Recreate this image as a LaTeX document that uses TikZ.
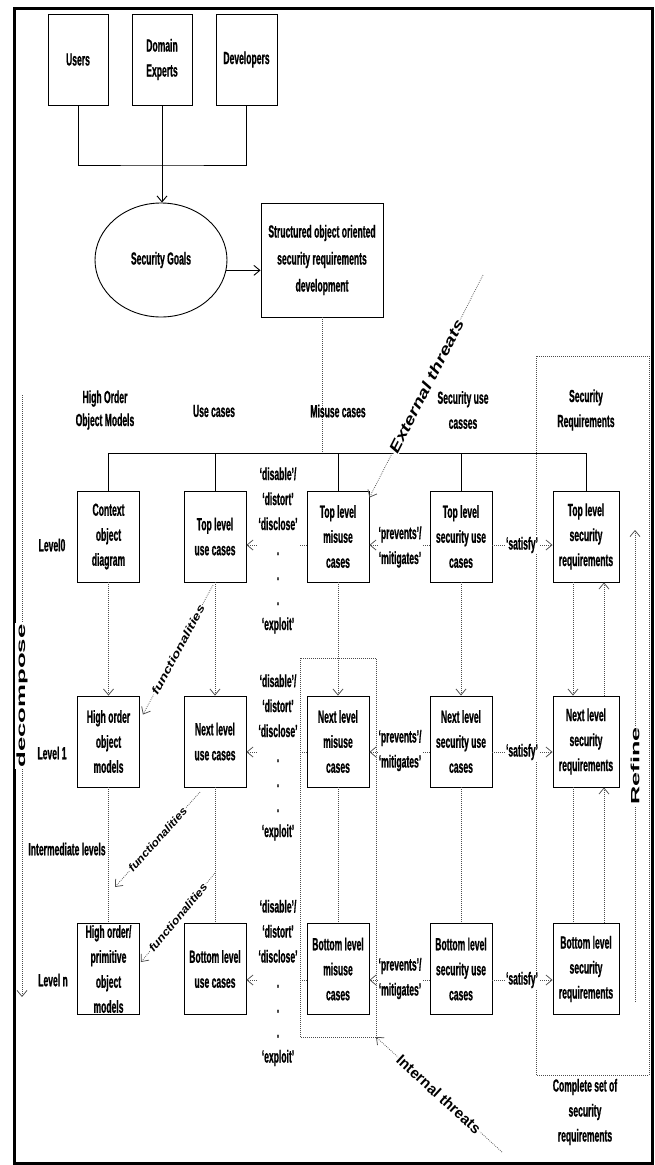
\documentclass[tikz,border=0pt]{standalone}
\usepackage{fontspec}
\setmainfont{Liberation Sans}[FakeStretch=0.49, BoldFeatures={FakeBold=0.8}]
\newfontfamily\plainsf{Liberation Sans}
\usetikzlibrary{arrows.meta,shapes.geometric,calc}
\newcommand\nfont{\fontsize{17.5}{25}\selectfont\bfseries}
\begin{document}
\begin{tikzpicture}[x=1pt,y=-1pt,
  box/.style={draw, line width=0.9pt, minimum width=62pt, minimum height=91pt, inner sep=0pt, align=center, font=\nfont},
  wbox/.style={box, minimum width=66pt},
  lab/.style={inner sep=0pt, align=center, font=\nfont},
  wlab/.style={lab, fill=white, inner sep=1pt},
  solid line/.style={line width=0.9pt},
  dot/.style={draw=black!70, line width=0.75pt, dash pattern=on 0.75pt off 1.25pt},
  arr/.style={-{Straight Barb[length=6pt,width=10pt]}},
  rot/.style={fill=white, inner sep=1pt, font=\plainsf\bfseries\itshape},
]
\useasboundingbox (0,0) rectangle (654,1165);
\draw[line width=3pt] (14,8) rectangle (652,1163);

% top
\node[box, minimum width=60pt] (users) at (78,59.5) {Users};
\node[box, minimum width=60pt] (domain) at (162,59.5) {Domain\\Experts};
\node[box, minimum width=61pt] (devs) at (246.5,59.5) {Developers};
\coordinate (join) at (162,165);
\draw[solid line] (users.south) |- (join) -| (devs.south);
\node[draw, ellipse, line width=0.9pt, minimum width=132pt, minimum height=114pt, inner sep=0pt, font=\nfont] (goals) at (161,260) {Security Goals};
\draw[solid line, arr] (domain.south) -- (domain.south |- goals.north);
\node[box, minimum width=122pt, minimum height=114pt, font=\fontsize{17.5}{27}\selectfont\bfseries] (sor) at (322,260) {Structured object oriented\\security requirements\\development};
\draw[solid line, arr] (goals.-9) -- (goals.-9 -| sor.west);

% headers
\coordinate (busy) at (0,453);
\draw[dot] (sor.south) -- (sor.south |- busy);
\node[lab, font=\fontsize{17.5}{23}\selectfont\bfseries] (h1) at (105,410) {High Order\\Object Models};
\node[lab] (h2) at (214,411) {Use cases};
\node[lab] (h3) at (338,411) {Misuse cases};
\node[lab] (h4) at (463,410) {Security use\\casses};
\node[lab] (h5) at (586,410) {Security\\Requirements};

% boxes
\node[box] (b01) at (108.5,536.5) {Context\\object\\diagram};
\node[box] (b02) at (215,536.5) {Top level\\use cases};
\node[box] (b03) at (338,536.5) {Top level\\misuse\\cases};
\node[box] (b04) at (461,536.5) {Top level\\security use\\cases};
\node[wbox] (b05) at (586,536.5) {Top level\\security\\requirements};

\node[box] (b11) at (108.5,741.5) {High order\\object\\models};
\node[box] (b12) at (215,741.5) {Next level\\use cases};
\node[box] (b13) at (338,741.5) {Next level\\misuse\\cases};
\node[box] (b14) at (461,741.5) {Next level\\security use\\cases};
\node[wbox] (b15) at (586,741.5) {Next level\\security\\requirements};

\node[box] (bn1) at (108.5,969) {High order/\\primitive\\object\\models};
\node[box] (bn2) at (215,969) {Bottom level\\use cases};
\node[box] (bn3) at (338,969) {Bottom level\\misuse\\cases};
\node[box] (bn4) at (461,969) {Bottom level\\security use\\cases};
\node[wbox] (bn5) at (586,969) {Bottom level\\security\\requirements};

% bus
\draw[solid line] (b01.north) |- (b05.north |- busy) -- (b05.north);
\foreach \b in {b02,b03,b04} \draw[solid line] (\b.north) -- (\b.north |- busy);

% level labels
\node[lab] (lv0) at (52,545) {Level0};
\node[lab] (lv1) at (52,753) {Level 1};
\node[lab] (lvi) at (67,849) {Intermediate levels};
\node[lab] (lvn) at (53,980) {Level n};

% vertical dotted
\foreach \c in {1,2,3,4} {
  \draw[dot,arr] (b0\c.south) -- (b1\c.north);
  \draw[dot] (b1\c.south) -- (bn\c.north);
}
\draw[dot,arr] ($(b05.south)+(-13,0)$) -- ($(b15.north)+(-13,0)$);
\draw[dot,arr] ($(b15.north)+(18,0)$) -- ($(b05.south)+(18,0)$);
\draw[dot] ($(b15.south)+(-13,0)$) -- ($(bn5.north)+(-13,0)$);
\draw[dot,arr] ($(bn5.north)+(18,0)$) -- ($(b15.south)+(18,0)$);

% dotted rectangles
\draw[dot] (300,658) rectangle (376,1037);
\draw[dot] (536,356) rectangle (649,1075);

% horizontal relations
\coordinate (r0) at (0,545);
\coordinate (r1) at (0,752);
\coordinate (rn) at (0,980);
\foreach \r/\l in {r0/0,r1/1,rn/n} {
  \draw[dot,arr] (b\l3.west |- \r) -- (b\l2.east |- \r);
  \draw[dot,arr] (b\l4.west |- \r) -- (b\l3.east |- \r);
  \draw[dot,arr] (b\l4.east |- \r) -- (b\l5.west |- \r);
}
\node[wlab] (dl0) at (278,550.5) {‘disable’/\\‘distort’\\‘disclose’\\.\\.\\.\\‘exploit’};
\node[wlab] (dl1) at (278,757.5) {‘disable’/\\‘distort’\\‘disclose’\\.\\.\\.\\‘exploit’};
\node[wlab] (dln) at (278,983) {‘disable’/\\‘distort’\\‘disclose’\\.\\.\\.\\‘exploit’};
\node[wlab] (pm0) at (400,547) {‘prevents’/\\‘mitigates’};
\node[wlab] (pm1) at (400,750.5) {‘prevents’/\\‘mitigates’};
\node[wlab] (pmn) at (400,978.5) {‘prevents’/\\‘mitigates’};
\node[wlab] (st0) at (522,545) {‘satisfy’};
\node[wlab] (st1) at (522,752) {‘satisfy’};
\node[wlab] (stn) at (522,980) {‘satisfy’};

% threats
\coordinate (extA) at (483,275);
\draw[dot,arr] (extA) -- node[rot, sloped] (ext) {\scalebox{1.3}[1]{\fontsize{15}{18}\selectfont External threats}} ($(b03.north east)+(0,7)$);
\coordinate (intA) at (502,1152);
\coordinate (intB) at (376,1037);
\draw[dot,arr] (intA) -- node[rot, sloped, font=\plainsf\bfseries] (int) {\fontsize{15}{18}\selectfont Internal threats} (intB);

% functionalities
\coordinate (f1a) at (213,585);
\draw[dot,arr] (f1a) -- node[rot, sloped] (fun1) {\scalebox{1.34}[1]{\fontsize{11}{13}\selectfont functionalities}} ($(b11.north east)+(3,19)$);
\coordinate (f2a) at (200,792);
\coordinate (f2b) at (115,887);
\draw[dot,arr] (f2a) -- node[rot, sloped] (fun2) {\scalebox{1.1}[1]{\fontsize{11}{13}\selectfont functionalities}} (f2b);
\coordinate (f3a) at (215,873);
\draw[dot,arr] (f3a) -- node[rot, sloped] (fun3) {\scalebox{1.14}[1]{\fontsize{11}{13}\selectfont functionalities}} ($(bn1.east)+(1,-7)$);

% decompose / refine
\coordinate (decA) at (22,395);
\coordinate (decB) at (22,997);
\draw[dot,arr] (decA) -- node[midway, rotate=90, fill=white, inner sep=1pt, font=\plainsf\bfseries\fontsize{12}{14}\selectfont] (dec) {\scalebox{2.15}[1]{decompose}} (decB);
\coordinate (refA) at (635,1002);
\coordinate (refB) at (635,530);
\draw[dot,arr] (refA) -- node[midway, rotate=90, fill=white, inner sep=1pt, font=\plainsf\bfseries\fontsize{12}{14}\selectfont] (ref) {\scalebox{2.1}[1]{Refine}} (refB);

\node[lab] (cset) at (585,1112) {Complete set of\\security\\requirements};
\end{tikzpicture}
\end{document}
